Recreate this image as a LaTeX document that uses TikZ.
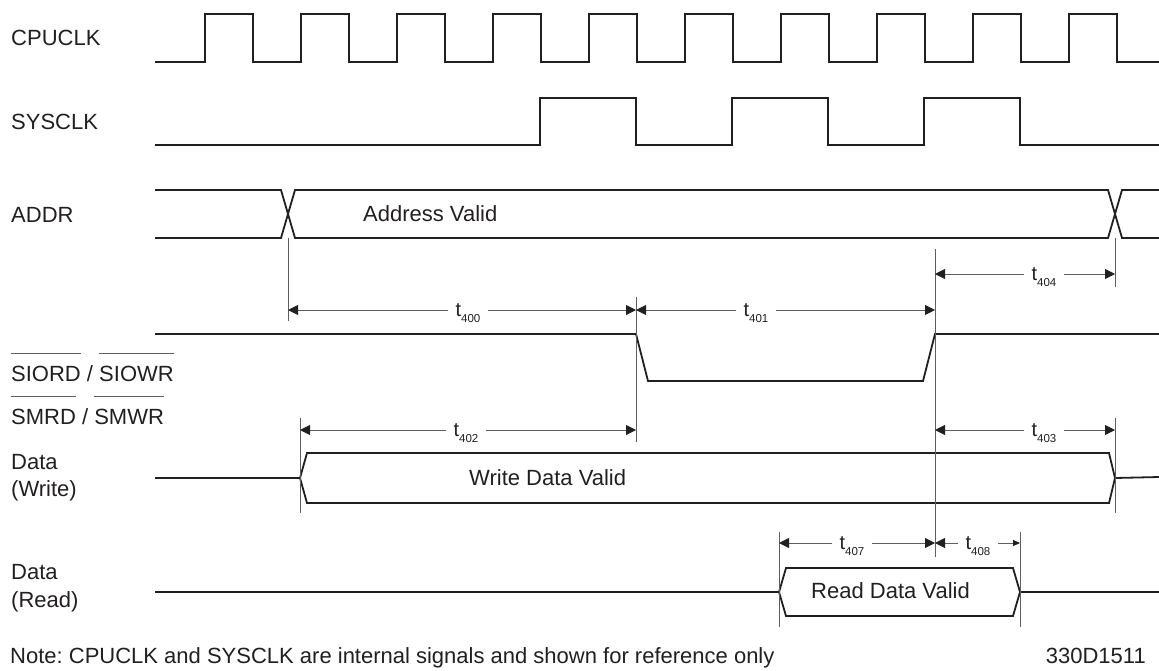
\documentclass[tikz,border=0pt]{standalone}
\usepackage{fontspec}
\setmainfont{Liberation Sans}
\frenchspacing
\usepackage{tikz}
\usetikzlibrary{arrows.meta}
\definecolor{signalColor}{RGB}{35,31,32}
\definecolor{dimColor}{RGB}{95,95,95}
\tikzstyle{timing} = [x = 1pt, y = -1pt]
\tikzstyle{signalLine} = [color=signalColor, line width=1.8pt, line join=miter]
\tikzstyle{dimLine} = [color=dimColor, line width=0.9pt]
\tikzstyle{bigTip} = [-{Triangle[length=10pt,width=10pt,color=signalColor]}]
\tikzstyle{smallTip} = [-{Triangle[length=7pt,width=6pt,color=signalColor]}]
\tikzstyle{signalName} = [anchor=base west, inner sep=0pt, color=signalColor, font=\fontsize{22}{27}\selectfont]
\tikzstyle{noteText} = [anchor=base west, inner sep=0pt, color=signalColor, font=\fontsize{22}{27}\selectfont]
\tikzstyle{timingLabel} = [inner xsep=7pt, inner ysep=0pt, color=signalColor, font=\fontsize{20}{20}\selectfont]
\newcommand{\subFont}{\fontsize{11.5}{11.5}\selectfont}
\newsavebox{\lowBox}
\newcommand{\activeLow}[1]{\sbox\lowBox{#1}\rlap{\raisebox{27pt}{\color{dimColor}\rule{\wd\lowBox}{0.9pt}}}\usebox\lowBox}
\newcommand{\timingArrow}[7]{
  \node [timingLabel] (#1) at (#5,#4) {t\smash{\raisebox{-6pt}{\subFont #6}}};
  \coordinate (#1Left) at (#2,#4);
  \coordinate (#1Right) at (#3,#4);
  \draw [dimLine, bigTip] (#1.west) -- (#1Left);
  \draw [dimLine, #7] (#1.east) -- (#1Right);
}

\begin{document}
\begin{tikzpicture}[timing]
  \useasboundingbox (0,0) rectangle (1159,670);
  % signal names
  \node [signalName] (cpuclkName) at (11,45) {CPUCLK};
  \node [signalName] (sysclkName) at (11,129) {SYSCLK};
  \node [signalName] (addrName) at (11,222) {ADDR};
  \node [signalName] (siordName) at (11,381) {\activeLow{SIORD} / \activeLow{SIOWR}};
  \node [signalName] (smrdName) at (11,424) {\activeLow{SMRD} / \activeLow{SMWR}};
  \node [signalName] (dataWriteName) at (11,469) {Data};
  \node [signalName] (writeName) at (11,496) {(Write)};
  \node [signalName] (dataReadName) at (11,579) {Data};
  \node [signalName] (readName) at (11,607) {(Read)};

  % clocks
  \draw [signalLine] (155,62) foreach \x in {205,301,...,1069} { -- (\x,62) -- (\x,14) -- (\x+48,14) -- (\x+48,62) } -- (1159,62);
  \draw [signalLine] (155,145) foreach \x in {540,732,924} { -- (\x,145) -- (\x,98) -- (\x+96,98) -- (\x+96,145) } -- (1159,145);

  % address bus
  \draw [signalLine] (155,190) -- (281,190) -- (295,238) -- (1108,238) -- (1122,190) -- (1159,190);
  \draw [signalLine] (155,238) -- (281,238) -- (295,190) -- (1108,190) -- (1122,238) -- (1159,238);
  \node [noteText] (addrValid) at (363,221) {Address Valid};

  % strobe
  \draw [signalLine] (155,334) -- (636,334) -- (648,381) -- (923,381) -- (935,334) -- (1159,334);

  % write data
  \draw [signalLine] (155,478) -- (300,478) -- (307,453) -- (1109,453) -- (1115,478) -- (1109,503) -- (307,503) -- (300,478);
  \draw [signalLine] (1115,478) -- (1159,477);
  \node [noteText] (writeValid) at (469,485) {Write Data Valid};

  % read data
  \draw [signalLine] (155,592) -- (779,592) -- (786,568) -- (1013,568) -- (1020,592) -- (1013,616) -- (786,616) -- (779,592);
  \draw [signalLine] (1020,592) -- (1159,592);
  \node [noteText] (readValid) at (811,598) {Read Data Valid};

  % guide lines
  \draw [dimLine] (288,238) -- (288,321);
  \draw [dimLine] (636,297) -- (636,442);
  \draw [dimLine] (935,249) -- (935,557);
  \draw [dimLine] (1115,238) -- (1115,287);
  \draw [dimLine] (300,418) -- (300,513);
  \draw [dimLine] (1115,418) -- (1115,513);
  \draw [dimLine] (779,532) -- (779,627);
  \draw [dimLine] (1020,532) -- (1020,627);

  % timing parameters
  \timingArrow{t400}{288}{636}{310}{468}{400}{bigTip}
  \timingArrow{t401}{636}{935}{310}{756}{401}{bigTip}
  \timingArrow{t404}{935}{1115}{274}{1044}{404}{bigTip}
  \timingArrow{t402}{300}{636}{430}{466}{402}{bigTip}
  \timingArrow{t403}{935}{1115}{430}{1044}{403}{bigTip}
  \timingArrow{t407}{779}{935}{543}{852}{407}{bigTip}
  \timingArrow{t408}{935}{1020}{543}{978}{408}{smallTip}

  % footer
  \node [noteText] (note) at (10,663) {Note: CPUCLK and SYSCLK are internal signals and shown for reference only};
  \node [noteText, anchor=base east] (figId) at (1146,663) {330D1511};
\end{tikzpicture}
\end{document}
